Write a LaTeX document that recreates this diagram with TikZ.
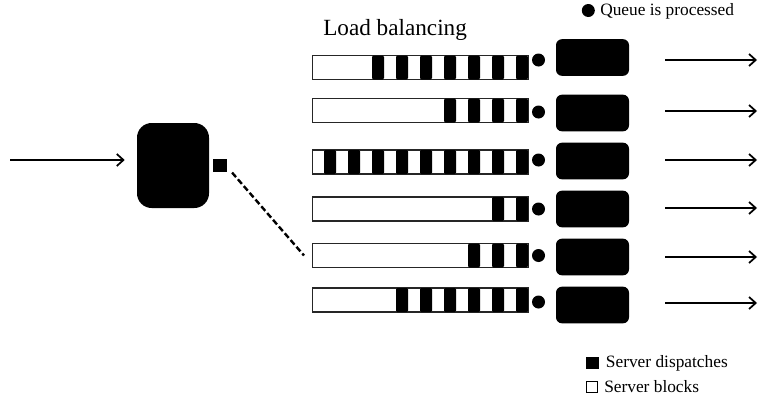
\documentclass[tikz,border=0pt]{standalone}
\usepackage{fontspec}
\setmainfont{Liberation Serif}
\usetikzlibrary{arrows.meta}
\begin{document}
\begin{tikzpicture}[x=0.75pt,y=-0.75pt,
  queuebox/.style={draw=black!85, line width=1.1pt, minimum width=162pt, minimum height=18pt, inner sep=0pt, anchor=west},
  bar/.style={fill=black, rounded corners=1pt},
  qdot/.style={circle, fill=black, minimum size=9.75pt, inner sep=0pt},
  server/.style={fill=black, rounded corners=4.5pt, minimum width=54.75pt, minimum height=27.5pt, inner sep=0pt},
  balancer/.style={fill=black, rounded corners=11pt, minimum width=54pt, minimum height=63.75pt, inner sep=0pt},
  flow/.style={line width=1.5pt, -{Straight Barb[length=5pt,width=9pt,line width=1.3pt]}},
  displine/.style={line width=1.8pt, dash pattern=on 4.5pt off 2.2pt},
  smalltxt/.style={font=\fontsize{13}{15}\selectfont, inner sep=0pt, anchor=base west},
  bigtxt/.style={font=\fontsize{17.4}{20}\selectfont, inner sep=0pt, anchor=base west}
]
\useasboundingbox (0,0) rectangle (758,400);

% title and legend
\node[bigtxt] (title) at (323,35.7) {Load balancing};
\node[qdot] (legdot) at (588.3,10.5) {};
\node[smalltxt] (legq) at (600,15.7) {Queue is processed};
\node[fill=black, minimum size=9.4pt, inner sep=0pt] (legdisp) at (592.3,363) {};
\node[smalltxt] (legdtxt) at (605.7,367) {Server dispatches};
\node[draw=black, line width=0.8pt, minimum size=8.6pt, inner sep=0pt] (legblk) at (592,387) {};
\node[smalltxt] (legbtxt) at (604,392.7) {Server blocks};

% rows: index / queue y / bars / dot y / box y / arrow y
\foreach \i/\qy/\n/\dy/\by/\ay in {1/67.5/7/60/57.5/60, 2/110.5/4/112/113/111, 3/162/9/160/161/160, 4/209/2/209/209/208, 5/255.5/3/255.5/257/257, 6/300/6/302/305/303}{
  \node[queuebox] (q\i) at (312,\qy) {};
  \pgfmathtruncatemacro{\m}{\n-1}
  \foreach \j in {0,...,\m}{
    \fill[bar] ({516-24*\j},{\qy-12}) rectangle +(12,24);
  }
  \node[qdot] (d\i) at (538.5,\dy) {};
  \node[server] (s\i) at (592.5,\by) {};
  \coordinate (as\i) at (665,\ay);
  \coordinate (ae\i) at (757,\ay);
  \draw[flow] (as\i) -- (ae\i);
}

% load balancer
\node[balancer] (lb) at (173,165.5) {};
\coordinate (in) at (10,160);
\draw[flow, shorten >=9pt] (in) -- (lb.west |- in);
\node[fill=black, minimum size=10.2pt, inner sep=0pt] (disp) at (220,165.5) {};
\draw[displine] ([xshift=3.75pt]disp.south east) -- ([xshift=-6pt]q5.west);
\end{tikzpicture}
\end{document}
